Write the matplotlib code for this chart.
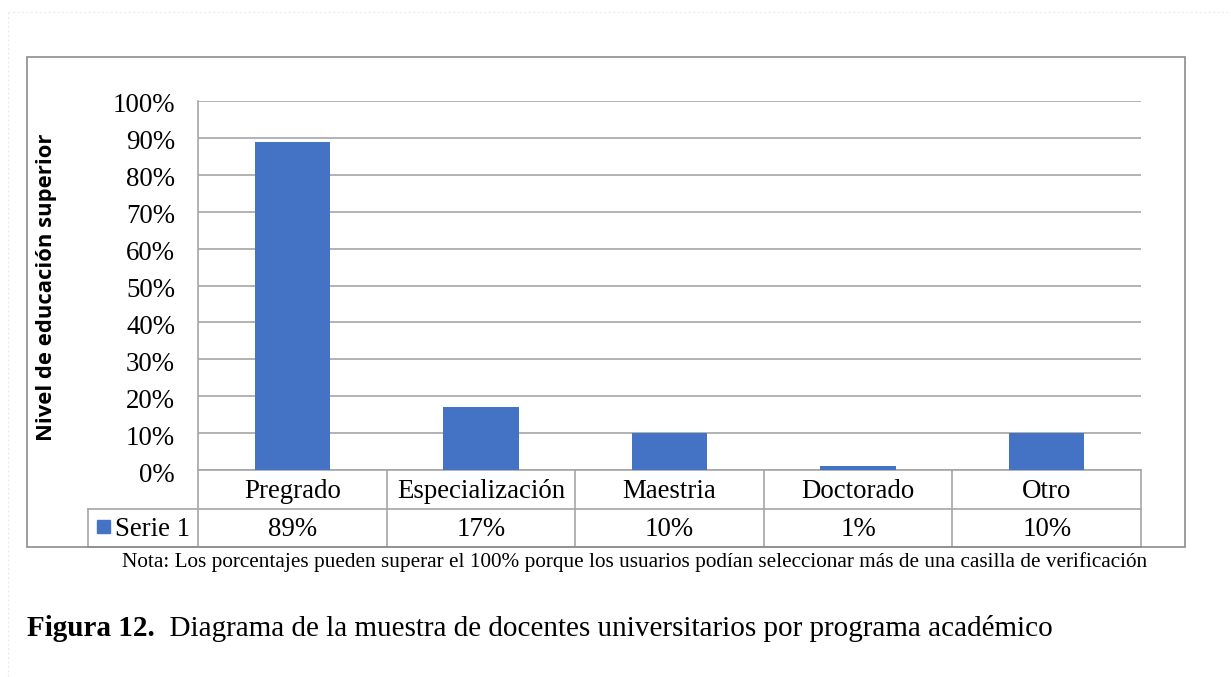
import matplotlib
matplotlib.use("Agg")
import matplotlib.pyplot as plt
from matplotlib.patches import Rectangle
from matplotlib.lines import Line2D
import matplotlib.transforms as mtransforms

categories = ["Pregrado", "Especialización", "Maestria", "Doctorado", "Otro"]
values = [89, 17, 10, 1, 10]
value_labels = ["89%", "17%", "10%", "1%", "10%"]
series_name = "Serie 1"
yticks = [0, 10, 20, 30, 40, 50, 60, 70, 80, 90, 100]
ylabel = "Nivel de educación superior"
note = "Nota: Los porcentajes pueden superar el 100% porque los usuarios podían seleccionar más de una casilla de verificación"
caption_bold = "Figura 12."
caption_rest = "  Diagrama de la muestra de docentes universitarios por programa académico"

W, H = 1231, 677
BAR = "#4472C4"
GRID = "#A6A6A6"
SERIF = "Liberation Serif"
FS = 19.4

fig = plt.figure(figsize=(W / 100, H / 100), dpi=100)

def fx(px):
    return px / W

def fy(py):
    return 1 - py / H

# faint outer page border
fig.add_artist(Line2D([fx(8), fx(8)], [fy(12), fy(677)], color="#EBEBEB", lw=0.8, ls=(0, (2, 2))))
fig.add_artist(Line2D([fx(8), fx(1231)], [fy(12), fy(12)], color="#EBEBEB", lw=0.8, ls=(0, (2, 2))))

# chart frame
fig.add_artist(Rectangle((fx(27), fy(547)), fx(1185) - fx(27), fy(57) - fy(547),
                         fill=False, ec="#8C8C8C", lw=1.2))

left, right, top, bottom = 198, 1141, 101, 470
ax = fig.add_axes([fx(left), fy(bottom), fx(right) - fx(left), fy(top) - fy(bottom)])
x = list(range(len(categories)))
ax.bar(x, values, width=0.4, color=BAR, zorder=3)
ax.set_xlim(-0.5, len(categories) - 0.5)
ax.set_ylim(0, 100)
ax.set_yticks(yticks)
ax.set_yticklabels([f"{t}%" for t in yticks], fontfamily=SERIF, fontsize=FS)
ax.tick_params(axis="y", length=0, pad=16.5)
ax.tick_params(axis="x", length=0, labelbottom=False)
shift = mtransforms.ScaledTranslation(0, -2 / 100, fig.dpi_scale_trans)
for lab in ax.get_yticklabels():
    lab.set_transform(lab.get_transform() + shift)
ax.yaxis.grid(True, color=GRID, lw=1.2, zorder=0)
for s in ["top", "right", "bottom"]:
    ax.spines[s].set_visible(False)
ax.spines["left"].set_color(GRID)
ax.spines["left"].set_linewidth(1.2)
ax.spines["left"].set_zorder(4)

# data table under the axis
tr = mtransforms.blended_transform_factory(ax.transData, ax.transAxes)
hpx = bottom - top
r1 = -(509 - bottom) / hpx
r2 = -(547 - bottom) / hpx
n = len(categories)
lx = -0.5 - (198 - 88) / ((right - left) / n)
lk = dict(color=GRID, lw=1.2, transform=tr, clip_on=False)
ax.plot([-0.5, n - 0.5], [0, 0], **lk)
ax.plot([lx, n - 0.5], [r1, r1], **lk)
ax.plot([lx, n - 0.5], [r2, r2], **lk)
for i in range(n + 1):
    ax.plot([i - 0.5, i - 0.5], [0, r2], **lk)
ax.plot([lx, lx], [r1, r2], **lk)
dy = 2 / hpx
for i, (c, v) in enumerate(zip(categories, value_labels)):
    ax.text(i, r1 / 2 - dy, c, transform=tr, ha="center", va="center",
            fontfamily=SERIF, fontsize=FS)
    ax.text(i, (r1 + r2) / 2 - dy, v, transform=tr, ha="center", va="center",
            fontfamily=SERIF, fontsize=FS)
# legend key in table
fig.add_artist(Rectangle((fx(97), fy(533)), fx(13), 13 / H, color=BAR))
fig.text(fx(115), fy(530), series_name, ha="left", va="center",
         fontfamily=SERIF, fontsize=FS)

# y label
fig.text(fx(47), fy(287), ylabel, rotation=90, ha="center", va="center",
         fontfamily="Open Sans", fontweight="bold", fontsize=15.8)

# note
fig.text(fx(635), fy(562), note, ha="center", va="center", fontfamily=SERIF, fontsize=15.3)

# caption
t = fig.text(fx(27), fy(629), caption_bold, ha="left", va="center",
             fontfamily=SERIF, fontweight="bold", fontsize=21)
fig.canvas.draw()
bb = t.get_window_extent()
fig.text(bb.x1 / W, fy(629), caption_rest, ha="left", va="center",
         fontfamily=SERIF, fontsize=21)

fig.savefig("out.png", dpi=100)
